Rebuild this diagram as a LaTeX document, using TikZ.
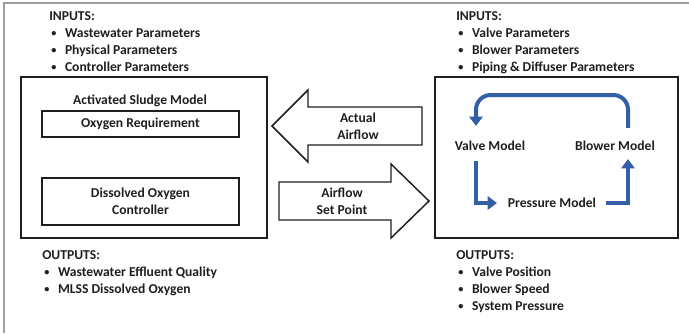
\documentclass[tikz,border=0pt]{standalone}
\usepackage{fontspec}
\setmainfont{Carlito}
\usetikzlibrary{arrows.meta,fit,calc}
\definecolor{ink}{rgb}{0.12,0.12,0.12}
\definecolor{framegray}{rgb}{0.62,0.62,0.62}
\definecolor{loopblue}{RGB}{50,95,165}
\tikzset{
  lbl/.style={font=\bfseries\fontsize{10.2pt}{12.8pt}\selectfont, text=ink, inner sep=0pt},
  listtext/.style={lbl, align=left, anchor=north west},
  bigbox/.style={draw=ink, line width=1.6pt, inner sep=0pt},
  subbox/.style={draw=ink, line width=1.2pt, inner sep=0pt},
  blockarrow/.style={draw=ink, line width=1.1pt, fill=white, line join=miter},
  loopline/.style={draw=loopblue, line width=3pt, -{Triangle[length=7pt,width=10pt]}},
}
\newcommand{\itm}{\hspace*{1.5pt}\raisebox{0.5pt}{\scalebox{0.75}{•}}\hspace{6.5pt}}
\begin{document}
\begin{tikzpicture}[x=0.75pt,y=-0.75pt]
\useasboundingbox (0,0) rectangle (689,333);
% outer frame lines
\draw[framegray, line width=1pt] (4,333) -- (4,3) -- (689,3);

% input / output lists
\node[listtext] (inL) at (49,11) {INPUTS:\\\itm Wastewater Parameters\\\itm Physical Parameters\\\itm Controller Parameters};
\node[listtext] (inR) at (456,11) {INPUTS:\\\itm Valve Parameters\\\itm Blower Parameters\\\itm Piping \& Diffuser Parameters};
\node[listtext] (outL) at (42,250) {OUTPUTS:\\\itm Wastewater Effluent Quality\\\itm MLSS Dissolved Oxygen};
\node[listtext] (outR) at (456,250) {OUTPUTS:\\\itm Valve Position\\\itm Blower Speed\\\itm System Pressure};

% activated sludge side
\coordinate (asmA) at (21,77);
\coordinate (asmB) at (267,238);
\node[bigbox, fit=(asmA)(asmB)] (asm) {};
\node[lbl] (asmtitle) at (140,101) {Activated Sludge Model};
\coordinate (oxA) at (42,111);
\coordinate (oxB) at (239,137);
\node[subbox, fit=(oxA)(oxB)] (oxreq) {};
\node[lbl] at (oxreq.center) {Oxygen Requirement};
\coordinate (doA) at (42,178);
\coordinate (doB) at (239,225);
\node[subbox, fit=(doA)(doB)] (doctl) {};
\node[lbl, align=center] at (doctl.center) {Dissolved Oxygen\\Controller};

% blower system side
\coordinate (bsA) at (435,77);
\coordinate (bsB) at (678,238);
\node[bigbox, fit=(bsA)(bsB)] (bsys) {};
\node[lbl] (valve) at (490,146) {Valve Model};
\node[lbl] (blower) at (615,146) {Blower Model};
\node[lbl] (pressure) at (552,203) {Pressure Model};
\coordinate (looptop) at (476,95);

\draw[loopline, rounded corners=11pt]
  ([shift={(13,-13)}]blower.north) |- (looptop) -- ([shift={(-14,-15)}]valve.north);
\draw[loopline]
  ([shift={(-14,10)}]valve.south) |- ([xshift=-8]pressure.west);
\draw[loopline]
  ([xshift=7]pressure.east) -| ([shift={(13,8)}]blower.south);

% block arrows between the two models
\draw[blockarrow] (422,107) -- (308,107) -- (308,90) -- (272,126) -- (308,162) -- (308,145) -- (422,145) -- cycle;
\node[lbl, align=center] (actual) at (358,126) {Actual\\Airflow};
\draw[blockarrow] (279,182) -- (391,182) -- (391,164) -- (429,201) -- (391,238) -- (391,220) -- (279,220) -- cycle;
\node[lbl, align=center] (setpt) at (342,201) {Airflow\\Set Point};
\end{tikzpicture}
\end{document}
